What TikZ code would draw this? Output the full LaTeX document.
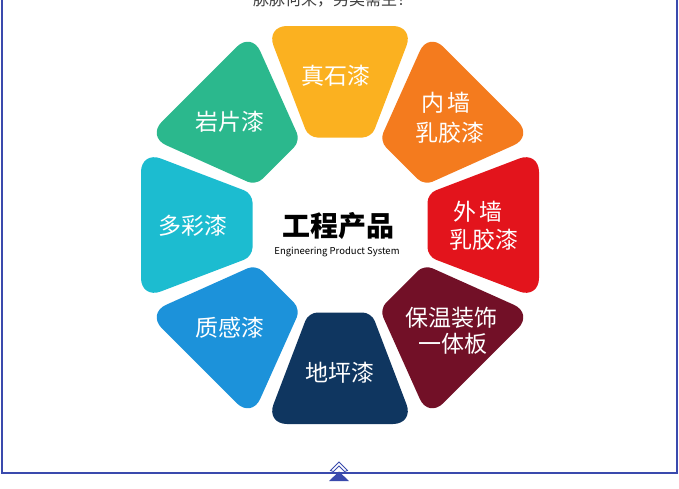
\documentclass[tikz,border=0pt]{standalone}
\usepackage{fontspec}
\newfontfamily\cjk{Noto Sans CJK SC}
\newfontfamily\cjkbold{Noto Sans CJK SC Black}
\usetikzlibrary{calc}
\definecolor{frameblue}{HTML}{3A4AAD}
\definecolor{cYellow}{HTML}{FBB120}
\definecolor{cOrange}{HTML}{F47B1E}
\definecolor{cRed}{HTML}{E3141C}
\definecolor{cMaroon}{HTML}{721027}
\definecolor{cNavy}{HTML}{0F3660}
\definecolor{cBlue}{HTML}{1C92DA}
\definecolor{cCyan}{HTML}{1CBCD0}
\definecolor{cGreen}{HTML}{2BB88D}
\tikzset{
  seg/.style={fill=#1, draw=none},
  lbl/.style={text=white, font=\cjk\fontsize{23}{27}\selectfont, align=center, inner sep=0pt},
}
\newcommand{\outR}{199}
\newcommand{\inR}{87.5}
\newcommand{\aW}{74}
\newcommand{\bW}{31.5}
\begin{document}
\begin{tikzpicture}[x=1pt,y=-1pt]
\useasboundingbox (0,0) rectangle (679,488);
\clip (0,0) rectangle (679,488);
\fill[white] (0,0) rectangle (679,488);
% frame
\draw[frameblue, line width=2.2pt] (2,-5) -- (2,473) -- (677,473) -- (677,-5);
% cut top text
\node[anchor=base, text=black!75, font=\cjk\fontsize{16}{18}\selectfont, inner sep=0pt] (toptext) at (333,5.5) {脉脉何来，另类需主！};
% segments
\foreach \ang/\col in {0/cYellow, 45/cOrange, 90/cRed, 135/cMaroon, 180/cNavy, 225/cBlue, 270/cCyan, 315/cGreen}{
  \begin{scope}[shift={(340,225)}, rotate=-\ang]
    \fill[seg=\col] (0,-\inR) [rounded corners=9pt] -- (-\bW,-\inR) [rounded corners=21pt] -- (-\aW,-\outR) -- (\aW,-\outR) [rounded corners=9pt] -- (\bW,-\inR) -- cycle;
  \end{scope}
}
% labels
\node[lbl] (l1) at (336,76) {真石漆};
\node[lbl] (l2a) at (446,103) {内\,墙};
\node[lbl] (l2b) at (450,133) {乳胶漆};
\node[lbl] (l3a) at (478,212) {外\,墙};
\node[lbl] (l3b) at (484,240) {乳胶漆};
\node[lbl] (l4a) at (451,318) {保温装饰};
\node[lbl] (l4b) at (453,344) {一体板};
\node[lbl] (l5) at (340,373) {地坪漆};
\node[lbl] (l6) at (230,328) {质感漆};
\node[lbl] (l7) at (193,226) {多彩漆};
\node[lbl] (l8) at (230,122) {岩片漆};
% center
\node[font=\cjkbold\fontsize{28}{30}\selectfont, inner sep=0pt] (title) at (338,226) {工程产品};
\node[font=\cjk\fontsize{9.5}{11}\selectfont, inner sep=0pt] (sub) at (337,251.5) {Engineering Product System};
% bottom marker
\fill[frameblue] (329,481) -- (339,471.5) -- (349,481) -- cycle;
\draw[frameblue, fill=white, line width=0.8pt, line join=miter] (330.5,470.5) -- (339,462) -- (347.5,470.5) -- (344.5,471.5) -- (339,466) -- (333.5,471.5) -- cycle;
\end{tikzpicture}
\end{document}
